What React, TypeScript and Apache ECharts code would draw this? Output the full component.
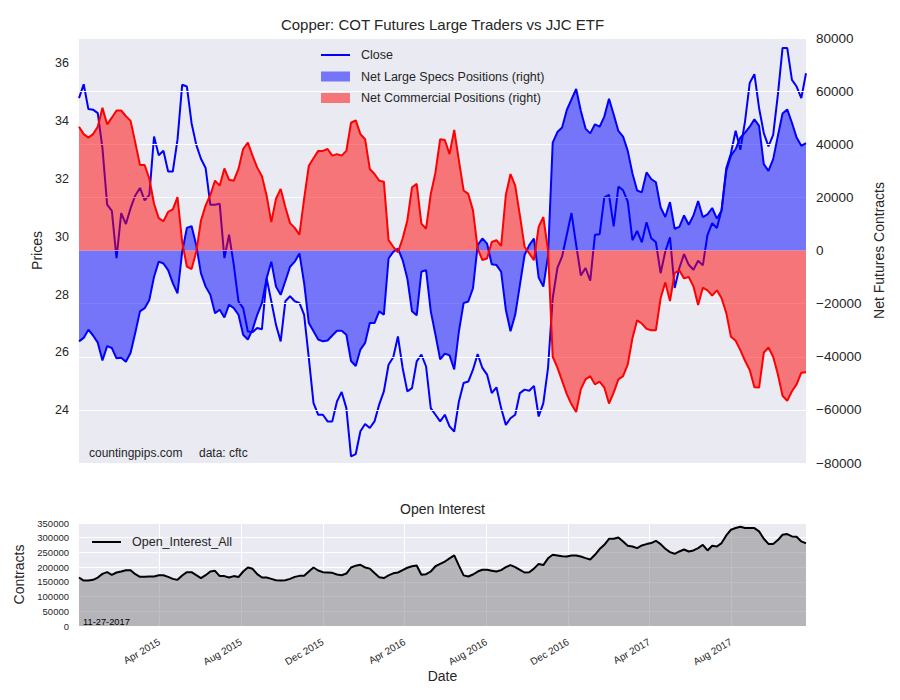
import React, { useEffect, useRef } from 'react';
import * as echarts from 'echarts';

// Weekly COT report dates start here (Tuesday) and run for one value per week
const START_UTC = Date.UTC(2014, 11, 2);
const WEEK_MS = 7 * 24 * 3600 * 1000;

// JJC close price (left axis)
const closePrices = [
  34.80, 35.28, 34.42, 34.40, 34.28, 33.07, 31.11, 30.90, 29.26, 30.82,
  30.44, 30.99, 31.43, 31.69, 31.26, 31.45, 33.47, 32.82, 32.98, 32.26,
  32.26, 33.36, 35.26, 35.20, 33.93, 33.18, 32.70, 32.38, 31.11, 31.11,
  31.14, 29.26, 30.07, 29.03, 27.76, 27.53, 26.72, 26.70, 26.84, 26.80,
  28.57, 27.77, 26.95, 26.38, 27.77, 27.94, 27.77, 27.71, 27.30, 25.80,
  24.24, 23.84, 23.84, 23.61, 23.61, 24.30, 24.63, 24.07, 22.40, 22.48,
  23.27, 23.52, 23.38, 23.61, 24.19, 24.65, 25.57, 25.83, 26.55, 25.46,
  24.65, 24.76, 25.69, 25.92, 25.51, 24.07, 23.84, 23.61, 23.84, 23.44,
  23.26, 24.30, 24.94, 24.99, 25.40, 25.94, 25.46, 25.23, 24.59, 24.79,
  24.07, 23.49, 23.72, 23.84, 24.59, 24.71, 24.67, 24.84, 23.78, 24.24,
  25.46, 27.88, 28.92, 29.32, 30.07, 30.82, 29.72, 28.66, 28.92, 28.48,
  30.07, 30.09, 31.36, 31.45, 30.36, 31.74, 31.61, 31.22, 29.88, 30.20,
  29.81, 30.50, 29.95, 29.81, 28.74, 29.49, 29.98, 28.23, 28.92, 29.40,
  29.03, 28.86, 29.17, 29.01, 30.07, 30.47, 30.30, 30.93, 32.37, 32.89,
  33.67, 33.01, 33.99, 35.32, 35.63, 34.45, 33.59, 33.13, 33.53, 34.91,
  36.53, 36.53, 35.43, 35.20, 34.80, 35.66,
];

// Net large speculator positions, thousands of contracts (right axis)
const specsK = [
  -34.2, -32.9, -29.8, -32.0, -34.7, -41.4, -36.0, -36.7, -40.6, -40.4,
  -41.9, -38.5, -31.0, -22.9, -21.7, -18.6, -9.9, -4.2, -4.9, -7.4,
  -12.3, -16.1, -0.5, 8.5, 9.2, 2.0, -8.6, -13.6, -16.7, -23.6,
  -22.3, -25.2, -20.4, -21.7, -24.2, -31.7, -33.5, -29.8, -24.2, -19.8,
  -10.5, -4.2, -13.6, -16.7, -11.5, -6.1, -4.2, -1.1, -12.3, -27.3,
  -30.4, -33.5, -34.2, -33.9, -32.0, -30.2, -30.2, -31.7, -41.6, -43.5,
  -37.3, -34.8, -27.3, -27.3, -22.9, -24.2, -3.0, -0.5, 0.7, -3.6,
  -10.5, -22.9, -24.4, -8.0, -7.4, -22.9, -31.7, -41.0, -38.8, -39.5,
  -44.8, -30.4, -19.8, -19.2, -14.2, 2.0, 4.5, 2.6, -5.2, -5.5,
  -8.0, -22.3, -30.4, -24.2, -13.0, -1.7, 2.0, 4.5, -10.2, -13.6,
  -2.0, 40.6, 44.6, 46.3, 52.9, 56.9, 60.8, 52.5, 45.9, 44.1,
  47.5, 46.6, 50.4, 57.1, 51.2, 45.0, 42.9, 37.5, 29.0, 22.6,
  21.9, 29.4, 26.9, 25.7, 16.3, 12.6, 18.2, 8.2, 8.9, 13.2,
  9.7, 13.2, 18.6, 12.6, 13.6, 16.0, 12.0, 15.1, 30.0, 35.7,
  38.2, 42.5, 44.4, 46.6, 49.4, 46.9, 32.5, 30.0, 34.4, 43.1,
  51.6, 53.1, 48.1, 42.5, 39.4, 40.4,
];

// Net commercial positions, thousands of contracts (right axis)
const commercialK = [
  46.6, 43.8, 42.5, 43.8, 46.6, 53.7, 47.5, 50.0, 52.7, 52.7,
  50.6, 48.8, 40.6, 32.2, 32.2, 27.0, 17.6, 12.2, 11.0, 14.5,
  15.5, 20.1, 3.2, -6.1, -7.0, -0.5, 11.3, 17.0, 20.9, 26.3,
  24.4, 30.9, 26.6, 26.3, 30.7, 38.2, 40.6, 35.7, 31.2, 28.0,
  20.7, 10.7, 19.5, 23.2, 16.3, 10.3, 8.5, 6.0, 19.5, 31.9,
  34.7, 37.5, 37.5, 38.2, 35.7, 36.3, 35.7, 37.5, 48.1, 49.0,
  43.8, 41.9, 30.7, 28.8, 26.3, 25.9, 3.9, 1.4, -0.7, 4.5,
  11.3, 23.8, 25.1, 10.1, 8.2, 21.3, 29.4, 41.9, 41.6, 36.3,
  45.4, 33.8, 22.6, 21.3, 15.1, 0.7, -3.6, -3.0, 3.2, 3.9,
  1.7, 20.9, 28.8, 24.4, 13.2, 1.4, -1.1, -3.6, 8.9, 12.6,
  0.0, -40.0, -44.1, -49.1, -54.1, -57.9, -60.8, -52.2, -48.5, -47.3,
  -50.4, -49.4, -51.6, -57.6, -53.5, -48.5, -47.3, -42.9, -33.0, -26.3,
  -27.5, -29.5, -30.0, -30.0, -18.0, -12.0, -19.0, -8.5, -7.5, -10.5,
  -10.0, -13.5, -20.5, -14.0, -15.0, -17.0, -15.0, -18.0, -23.5, -32.5,
  -34.0, -37.5, -41.5, -45.0, -51.5, -51.6, -38.5, -36.5, -40.0, -46.6,
  -54.7, -56.6, -53.0, -50.4, -46.0, -45.8,
];

// Open interest, thousands of contracts (bottom panel)
const openInterestK = [
  164.7, 154.5, 154.5, 156.8, 164.7, 177.2, 182.9, 173.8, 181.8, 185.2,
  189.7, 189.7, 176.1, 167.0, 167.4, 168.5, 168.5, 172.6, 172.6, 167.0,
  160.2, 156.8, 171.5, 182.9, 182.9, 172.6, 162.5, 172.6, 185.2, 187.5,
  169.6, 169.6, 165.1, 169.6, 166.2, 185.2, 198.8, 194.3, 176.1, 164.7,
  164.7, 160.2, 155.6, 154.5, 155.6, 160.2, 167.0, 170.4, 170.4, 185.0,
  198.8, 188.6, 182.9, 181.8, 180.7, 175.0, 172.6, 178.3, 198.8, 205.0,
  207.9, 199.0, 195.0, 180.0, 166.0, 163.0, 172.0, 179.0, 181.8, 190.0,
  198.0, 203.0, 205.6, 173.9, 176.1, 185.2, 203.0, 211.0, 219.0, 230.0,
  240.0, 205.0, 172.0, 168.1, 175.0, 185.0, 191.0, 191.0, 188.0, 185.0,
  190.0, 200.0, 207.0, 200.0, 190.9, 181.8, 182.9, 195.0, 211.0, 207.0,
  230.0, 242.0, 239.7, 237.0, 236.0, 239.7, 239.7, 236.3, 230.6, 226.1,
  242.0, 261.3, 275.9, 296.4, 296.4, 301.0, 287.3, 272.6, 270.3, 264.6,
  273.7, 278.3, 281.7, 289.6, 278.3, 262.4, 251.0, 245.3, 253.3, 260.1,
  253.3, 256.7, 264.6, 275.9, 256.7, 272.6, 270.3, 281.7, 307.8, 327.1,
  332.8, 337.4, 332.8, 332.8, 332.8, 321.5, 296.4, 279.0, 278.3, 292.0,
  310.1, 312.4, 304.4, 303.3, 287.3, 280.6,
];

// Date tick labels of the bottom axis
const tickDates = [
  '2015-04-01', '2015-08-01', '2015-12-01', '2016-04-01',
  '2016-08-01', '2016-12-01', '2017-04-01', '2017-08-01',
];
const MONTHS = ['Jan', 'Feb', 'Mar', 'Apr', 'May', 'Jun', 'Jul', 'Aug', 'Sep', 'Oct', 'Nov', 'Dec'];

const FONT = '"Liberation Sans", Arial, Helvetica, sans-serif';
const TXT = '#262626';
const NAME_CLOSE = 'Close';
const NAME_SPECS = 'Net Large Specs Positions (right)';
const NAME_COMM = 'Net Commercial Positions (right)';
const NAME_OI = 'Open_Interest_All';

export default function App() {
  const ref = useRef<HTMLDivElement>(null);

  useEffect(() => {
    document.body.style.margin = '0';
    const chart = echarts.init(ref.current as HTMLDivElement, null, { renderer: 'svg' });

    const dates = closePrices.map((_, i) => START_UTC + i * WEEK_MS);
    const pair = (arr: number[], scale: number) => arr.map((v, i) => [dates[i], v * scale]);
    const xMin = dates[0];
    const xMax = dates[dates.length - 1];
    const tickValues = tickDates.map((s) => Date.parse(s + 'T00:00:00Z'));
    const minusFmt = (v: number) => (v < 0 ? '\u2212' + Math.abs(v) : String(v));
    const plainFmt = (v: number) => String(v);

    const option: any = {
      animation: false,
      backgroundColor: '#FFFFFF',
      textStyle: { fontFamily: FONT },
      grid: [
        { left: 79, top: 38, width: 727, height: 425, show: true, backgroundColor: '#EAEAF2', borderWidth: 0 },
        { left: 79, top: 523, width: 727, height: 103, show: true, backgroundColor: '#EAEAF2', borderWidth: 0 },
      ],
      xAxis: [
        { type: 'value', gridIndex: 0, min: xMin, max: xMax, show: false },
        {
          type: 'value', gridIndex: 1, min: xMin, max: xMax,
          axisLine: { show: false },
          axisTick: { show: false, customValues: tickValues },
          axisLabel: {
            customValues: tickValues,
            rotate: 30, fontSize: 10, color: TXT, margin: 15, fontFamily: FONT,
            formatter: (v: number) => {
              const d = new Date(v);
              return MONTHS[d.getUTCMonth()] + ' ' + d.getUTCFullYear();
            },
          },
          splitLine: { show: true, lineStyle: { color: '#FFFFFF', width: 1 } },
          name: 'Date', nameLocation: 'middle', nameGap: 43,
          nameTextStyle: { fontSize: 14, color: TXT, fontFamily: FONT },
        },
      ],
      yAxis: [
        {
          type: 'value', gridIndex: 0, position: 'left', min: 22.17, max: 36.88, splitNumber: 7,
          axisLine: { show: false }, axisTick: { show: false }, splitLine: { show: false },
          axisLabel: { fontSize: 12.5, color: TXT, margin: 10, showMinLabel: false, showMaxLabel: false, fontFamily: FONT, formatter: plainFmt },
          name: 'Prices', nameLocation: 'middle', nameGap: 30, nameRotate: 90,
          nameTextStyle: { fontSize: 14, color: TXT, fontFamily: FONT },
        },
        {
          type: 'value', gridIndex: 0, position: 'right', min: -80000, max: 80000, interval: 20000, z: 2,
          axisLine: { show: false }, axisTick: { show: false },
          splitLine: { show: true, lineStyle: { color: '#FFFFFF', width: 1 } },
          axisLabel: { fontSize: 13.5, color: TXT, margin: 10, formatter: minusFmt, fontFamily: FONT },
          name: 'Net Futures Contracts', nameLocation: 'middle', nameGap: 59, nameRotate: 90,
          nameTextStyle: { fontSize: 14, color: TXT, fontFamily: FONT },
        },
        {
          type: 'value', gridIndex: 1, min: 0, max: 350000, interval: 50000,
          axisLine: { show: false }, axisTick: { show: false },
          splitLine: { show: true, lineStyle: { color: '#FFFFFF', width: 1 } },
          axisLabel: { fontSize: 9.5, color: TXT, margin: 10, fontFamily: FONT, formatter: plainFmt },
          name: 'Contracts', nameLocation: 'middle', nameGap: 49, nameRotate: 90,
          nameTextStyle: { fontSize: 14, color: TXT, fontFamily: FONT },
        },
      ],
      legend: [
        {
          orient: 'vertical', left: 315, top: 43.5, itemWidth: 29, itemHeight: 10, itemGap: 8.5,
          selectedMode: false,
          textStyle: { fontSize: 12.5, color: TXT, fontFamily: FONT, padding: [0, 0, 0, 6] },
          data: [
            { name: NAME_CLOSE, itemStyle: { opacity: 0 } },
            { name: NAME_SPECS, icon: 'rect', itemStyle: { color: 'rgba(0,0,255,0.5)', borderWidth: 0 } },
            { name: NAME_COMM, icon: 'rect', itemStyle: { color: 'rgba(255,0,0,0.5)', borderWidth: 0 } },
          ],
        },
        {
          orient: 'vertical', left: 86, top: 530.5, itemWidth: 29, itemHeight: 10,
          selectedMode: false,
          textStyle: { fontSize: 12.5, color: TXT, fontFamily: FONT, padding: [0, 0, 0, 6] },
          data: [{ name: NAME_OI, itemStyle: { opacity: 0 } }],
        },
      ],
      series: [
        {
          name: NAME_CLOSE, type: 'line', xAxisIndex: 0, yAxisIndex: 0, z: 1,
          data: pair(closePrices, 1), symbol: 'none', showSymbol: false, silent: true,
          lineStyle: { color: '#0000FF', width: 2 }, itemStyle: { color: '#0000FF' },
        },
        {
          name: NAME_SPECS, type: 'line', xAxisIndex: 0, yAxisIndex: 1, z: 3,
          data: pair(specsK, 1000), symbol: 'none', showSymbol: false, silent: true,
          lineStyle: { color: '#0000FF', width: 2 }, itemStyle: { color: '#0000FF' },
          areaStyle: { color: 'rgba(0,0,255,0.5)', opacity: 1, origin: 0 },
        },
        {
          name: NAME_COMM, type: 'line', xAxisIndex: 0, yAxisIndex: 1, z: 3,
          data: pair(commercialK, 1000), symbol: 'none', showSymbol: false, silent: true,
          lineStyle: { color: '#FF0000', width: 2 }, itemStyle: { color: '#FF0000' },
          areaStyle: { color: 'rgba(255,0,0,0.5)', opacity: 1, origin: 0 },
        },
        {
          name: NAME_OI, type: 'line', xAxisIndex: 1, yAxisIndex: 2, z: 3,
          data: pair(openInterestK, 1000), symbol: 'none', showSymbol: false, silent: true,
          lineStyle: { color: '#000000', width: 2 }, itemStyle: { color: '#000000' },
          areaStyle: { color: 'rgba(128,128,128,0.5)', opacity: 1, origin: 0 },
        },
      ],
      graphic: [
        {
          type: 'text', x: 442.5, y: 24.5, silent: true,
          style: { text: 'Copper: COT Futures Large Traders vs JJC ETF', fontSize: 15, fill: TXT, fontFamily: FONT, align: 'center', verticalAlign: 'middle' },
        },
        {
          type: 'text', x: 442.5, y: 508.5, silent: true,
          style: { text: 'Open Interest', fontSize: 14, fill: TXT, fontFamily: FONT, align: 'center', verticalAlign: 'middle' },
        },
        {
          type: 'text', x: 89, y: 453, silent: true, z: 10,
          style: { text: 'countingpips.com', fontSize: 12, fill: TXT, fontFamily: FONT, align: 'left', verticalAlign: 'middle' },
        },
        {
          type: 'text', x: 199, y: 453, silent: true, z: 10,
          style: { text: 'data: cftc', fontSize: 12, fill: TXT, fontFamily: FONT, align: 'left', verticalAlign: 'middle' },
        },
        {
          type: 'text', x: 83, y: 621.7, silent: true, z: 10,
          style: { text: '11-27-2017', fontSize: 9.3, fill: '#000000', fontFamily: FONT, align: 'left', verticalAlign: 'middle' },
        },
      ],
    };

    chart.setOption(option);
    return () => chart.dispose();
  }, []);

  return <div ref={ref} style={{ width: 900, height: 700, position: 'absolute', left: 0, top: 0 }} />;
}
